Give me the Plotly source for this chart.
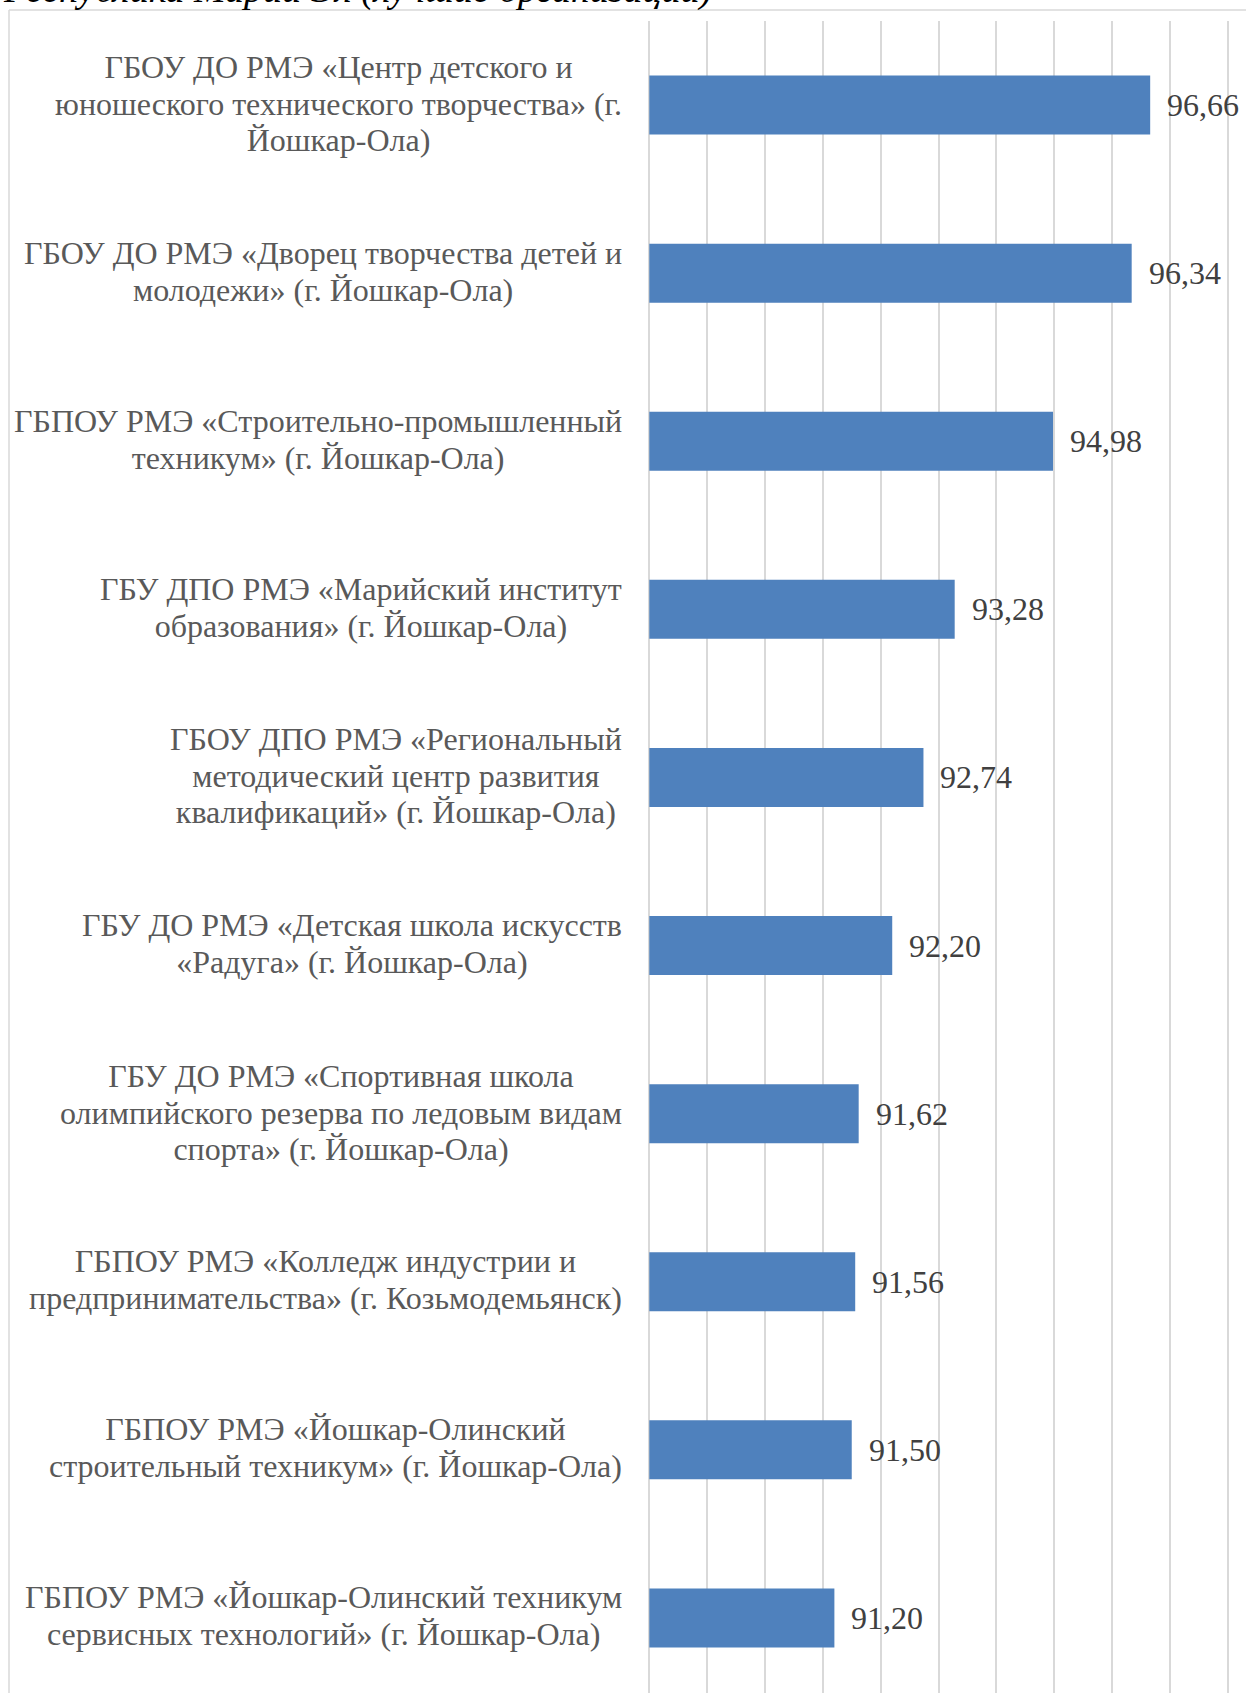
import plotly.graph_objects as go

categories = [
    "ГБОУ ДО РМЭ «Центр детского и<br>юношеского технического творчества» (г.<br>Йошкар-Ола)",
    "ГБОУ ДО РМЭ «Дворец творчества детей и<br>молодежи» (г. Йошкар-Ола)",
    "ГБПОУ РМЭ «Строительно-промышленный<br>техникум» (г. Йошкар-Ола)",
    "ГБУ ДПО РМЭ «Марийский институт<br>образования» (г. Йошкар-Ола)",
    "ГБОУ ДПО РМЭ «Региональный<br>методический центр развития<br>квалификаций» (г. Йошкар-Ола)",
    "ГБУ ДО РМЭ «Детская школа искусств<br>«Радуга» (г. Йошкар-Ола)",
    "ГБУ ДО РМЭ «Спортивная школа<br>олимпийского резерва по ледовым видам<br>спорта» (г. Йошкар-Ола)",
    "ГБПОУ РМЭ «Колледж индустрии и<br>предпринимательства» (г. Козьмодемьянск)",
    "ГБПОУ РМЭ «Йошкар-Олинский<br>строительный техникум» (г. Йошкар-Ола)",
    "ГБПОУ РМЭ «Йошкар-Олинский техникум<br>сервисных технологий» (г. Йошкар-Ола)",
]
values = [96.66, 96.34, 94.98, 93.28, 92.74, 92.20, 91.62, 91.56, 91.50, 91.20]
title_text = "Республика Марий Эл (лучшие организации)"
AXIS_MIN, AXIS_MAX = 88, 98

W, H = 1246, 1693
UNIT = 57.9           # px per axis unit
PAD = 0.04            # axis padding (units) so edge gridlines are drawn
L = 649 - PAD * UNIT
R = W - (649 + (AXIS_MAX - AXIS_MIN) * UNIT) - PAD * UNIT
T, B = 21, 0
PW, PH = W - L - R, H - T - B
band = 168.1


def px_x(px):
    return (px - L) / PW


def px_y(py):
    return (H - B - py) / PH


FONT = "Liberation Serif"
LABEL_SIZE = 32
LINE_GAP = 36.7
ids = list(range(len(categories)))

fig = go.Figure()
fig.add_trace(go.Bar(
    x=[v - AXIS_MIN for v in values], base=AXIS_MIN, y=ids, orientation="h",
    marker=dict(color="#4F81BD", line=dict(width=0)),
    hoverinfo="skip",
))

annotations = []
for i, (c, v) in enumerate(zip(categories, values)):
    annotations.append(dict(
        x=px_x(649), xref="paper", y=i, yref="y", xanchor="right", yanchor="middle",
        xshift=-25, yshift=1.5, text=c, align="center", showarrow=False,
        font=dict(family=FONT, size=LABEL_SIZE, color="#595959"),
    ))
    annotations.append(dict(
        x=v, xref="x", y=i, yref="y", xanchor="left", yanchor="middle",
        xshift=15, text=f"{v:.2f}".replace(".", ","), showarrow=False,
        font=dict(family=FONT, size=32, color="#404040"),
    ))

annotations.append(dict(
    x=px_x(0), xref="paper", y=px_y(-10), yref="paper",
    xanchor="left", yanchor="middle", text=title_text, showarrow=False,
    font=dict(family=FONT, size=38, color="#000000", style="italic"),
))

shapes = [
    dict(type="line", xref="paper", yref="paper",
         x0=px_x(8), x1=px_x(W + 5), y0=px_y(10), y1=px_y(10),
         line=dict(color="#D9D9D9", width=1.5)),
    dict(type="line", xref="paper", yref="paper",
         x0=px_x(8), x1=px_x(8), y0=px_y(10), y1=px_y(H + 5),
         line=dict(color="#D9D9D9", width=1.5)),
]

n_vis = PH / band
fig.update_layout(
    width=W, height=H,
    margin=dict(l=L, r=R, t=T, b=B, pad=0),
    paper_bgcolor="white", plot_bgcolor="white",
    showlegend=False,
    bargap=1 - 59 / band,
    annotations=annotations,
    shapes=shapes,
    xaxis=dict(range=[AXIS_MIN - PAD, AXIS_MAX + PAD], tick0=AXIS_MIN, dtick=1,
               showgrid=True, gridcolor="#D9D9D9", gridwidth=1.5,
               showticklabels=False, zeroline=False, showline=False, ticks=""),
    yaxis=dict(range=[-0.5 + n_vis, -0.5], showticklabels=False,
               showgrid=False, zeroline=False, showline=False, ticks=""),
)

# Tighter line spacing for multi-line category labels (Excel-like ~1.15em)
post = """
document.body.style.margin='0px';
document.body.style.overflow='hidden';
try {
  var gd = document.getElementById('{plot_id}');
  var target = %f, natural = %f;
  gd.querySelectorAll('text.annotation-text').forEach(function(t){
    var lines = t.querySelectorAll('tspan.line');
    var n = lines.length;
    if (n < 2) return;
    for (var i = 1; i < n; i++) { lines[i].setAttribute('dy', (i * target) + 'px'); }
    t.setAttribute('transform', 'translate(0,' + ((n - 1) * (natural - target) / 2) + ')');
  });
} catch (e) {}
""" % (LINE_GAP, 1.3 * LABEL_SIZE)

fig.write_html("out.html", config={"displayModeBar": False}, post_script=post)
